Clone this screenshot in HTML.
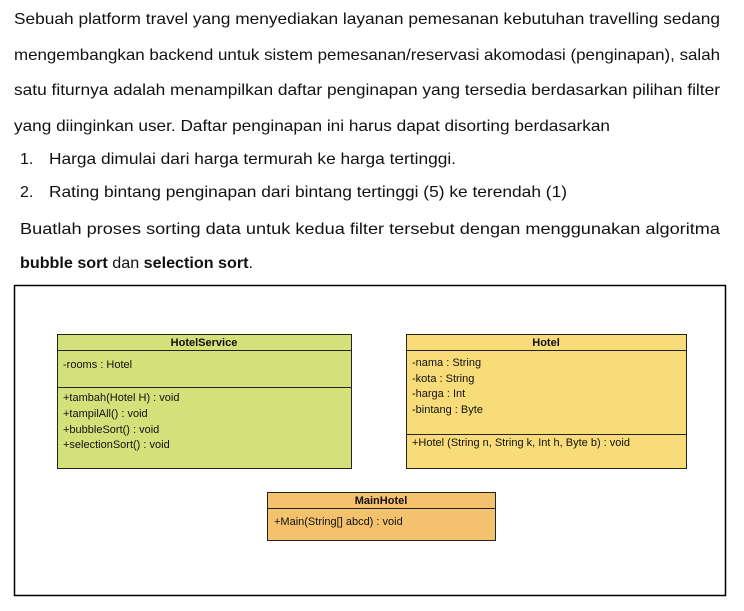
<!DOCTYPE html>
<html><head><meta charset="utf-8"><style>
html,body{margin:0;padding:0;background:#fff;width:744px;height:611px;overflow:hidden}
svg{display:block}
.t{font-family:"Liberation Sans",sans-serif;font-size:16px;fill:#111}
.u{font-family:"Liberation Sans",sans-serif;font-size:11px;fill:#111}
.h{font-family:"Liberation Sans",sans-serif;font-size:11px;font-weight:bold;fill:#111}
</style></head><body>
<svg width="744" height="611" xmlns="http://www.w3.org/2000/svg">
<text class="t" x="14" y="24" textLength="706" lengthAdjust="spacingAndGlyphs">Sebuah platform travel yang menyediakan layanan pemesanan kebutuhan travelling sedang</text>
<text class="t" x="14" y="60" textLength="706" lengthAdjust="spacingAndGlyphs">mengembangkan backend untuk sistem pemesanan/reservasi akomodasi (penginapan), salah</text>
<text class="t" x="14" y="95" textLength="706" lengthAdjust="spacingAndGlyphs">satu fiturnya adalah menampilkan daftar penginapan yang tersedia berdasarkan pilihan filter</text>
<text class="t" x="14" y="131" textLength="596" lengthAdjust="spacingAndGlyphs">yang diinginkan user. Daftar penginapan ini harus dapat disorting berdasarkan</text>
<text class="t" x="20" y="164">1.</text>
<text class="t" x="49" y="164" textLength="407" lengthAdjust="spacingAndGlyphs">Harga dimulai dari harga termurah ke harga tertinggi.</text>
<text class="t" x="20" y="197">2.</text>
<text class="t" x="49" y="197" textLength="518" lengthAdjust="spacingAndGlyphs">Rating bintang penginapan dari bintang tertinggi (5) ke terendah (1)</text>
<text class="t" x="20" y="234" textLength="700" lengthAdjust="spacingAndGlyphs">Buatlah proses sorting data untuk kedua filter tersebut dengan menggunakan algoritma</text>
<text class="t" x="20" y="268" textLength="233" lengthAdjust="spacingAndGlyphs"><tspan font-weight="bold">bubble sort</tspan> dan <tspan font-weight="bold">selection sort</tspan>.</text>

<rect x="14.5" y="285.5" width="711" height="310" fill="none" stroke="#000" stroke-width="1.5"/>

<rect x="57.5" y="334.5" width="294" height="134" fill="#d4e17a" stroke="#222"/>
<line x1="57" y1="350.5" x2="351" y2="350.5" stroke="#222"/>
<line x1="57" y1="387.5" x2="351" y2="387.5" stroke="#222"/>
<text class="h" x="204" y="346" text-anchor="middle">HotelService</text>
<text class="u" x="63" y="368">-rooms : Hotel</text>
<text class="u" x="63" y="401">+tambah(Hotel H) : void</text>
<text class="u" x="63" y="417">+tampilAll() : void</text>
<text class="u" x="63" y="433">+bubbleSort() : void</text>
<text class="u" x="63" y="448">+selectionSort() : void</text>

<rect x="406.5" y="334.5" width="280" height="134" fill="#f9dc7a" stroke="#222"/>
<line x1="406" y1="350.5" x2="686" y2="350.5" stroke="#222"/>
<line x1="406" y1="434.5" x2="686" y2="434.5" stroke="#222"/>
<text class="h" x="546" y="346" text-anchor="middle">Hotel</text>
<text class="u" x="412" y="366">-nama : String</text>
<text class="u" x="412" y="382">-kota : String</text>
<text class="u" x="412" y="397">-harga : Int</text>
<text class="u" x="412" y="413">-bintang : Byte</text>
<text class="u" x="412" y="446">+Hotel (String n, String k, Int h, Byte b) : void</text>

<rect x="267.5" y="492.5" width="228" height="48" fill="#f4c26e" stroke="#222"/>
<line x1="267" y1="508.5" x2="495" y2="508.5" stroke="#222"/>
<text class="h" x="381" y="504" text-anchor="middle">MainHotel</text>
<text class="u" x="274" y="525">+Main(String[] abcd) : void</text>
</svg>
</body></html>
